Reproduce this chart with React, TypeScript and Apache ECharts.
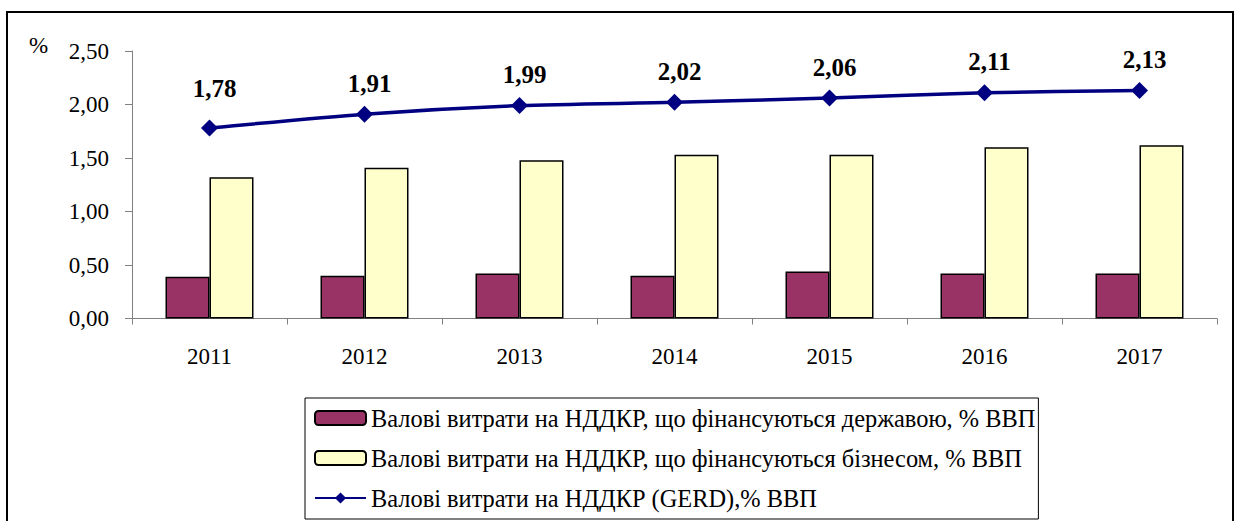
import React, { useEffect, useRef } from "react";
import * as echarts from "echarts";

const years = ["2011", "2012", "2013", "2014", "2015", "2016", "2017"];
const govValues = [0.39, 0.4, 0.42, 0.4, 0.44, 0.42, 0.42];
const bizValues = [1.32, 1.41, 1.48, 1.53, 1.53, 1.6, 1.62];
const gerdValues = [1.78, 1.91, 1.99, 2.02, 2.06, 2.11, 2.13];
const seriesNames = [
  "Валові витрати на НДДКР, що фінансуються державою, % ВВП",
  "Валові витрати на НДДКР, що фінансуються бізнесом, % ВВП",
  "Валові витрати на НДДКР (GERD),% ВВП",
];

const SERIF = "Times New Roman, Liberation Serif, serif";
const fmt = (v: number) => v.toFixed(2).replace(".", ",");

export default function App() {
  const ref = useRef<HTMLDivElement>(null);
  useEffect(() => {
    if (!ref.current) return;
    const chart = echarts.init(ref.current, null, { renderer: "svg" });
    chart.setOption({
      animation: false,
      backgroundColor: "#ffffff",
      textStyle: { fontFamily: SERIF },
      grid: { left: 132, top: 51, width: 1085, height: 267.5, containLabel: false },
      graphic: [
        {
          type: "rect",
          shape: { x: 7, y: 12, width: 1226, height: 600 },
          style: { fill: "none", stroke: "#000", lineWidth: 2 },
          z: -1,
        },
        {
          type: "text",
          left: 29,
          top: 34,
          style: { text: "%", fontSize: 23, fontFamily: SERIF, fill: "#000" },
        },
      ],
      legend: {
        orient: "vertical",
        left: 305,
        top: 398,
        padding: [7, 3, 8, 9],
        itemWidth: 51,
        itemHeight: 14,
        itemGap: 14,
        borderColor: "#000",
        borderWidth: 1,
        textStyle: { fontFamily: SERIF, fontSize: 24.4, color: "#000", lineHeight: 26 },
        data: seriesNames,
      },
      xAxis: {
        type: "category",
        data: years,
        boundaryGap: true,
        axisLine: { lineStyle: { color: "#808080", width: 1 } },
        axisTick: { show: true, length: 6, alignWithLabel: false, lineStyle: { color: "#808080" } },
        axisLabel: { fontFamily: SERIF, fontSize: 23, color: "#000", margin: 26 },
        splitLine: { show: false },
      },
      yAxis: {
        type: "value",
        min: 0,
        max: 2.5,
        interval: 0.5,
        axisLine: { show: true, lineStyle: { color: "#808080", width: 1 } },
        axisTick: { show: true, length: 7, lineStyle: { color: "#808080" } },
        axisLabel: {
          fontFamily: SERIF,
          fontSize: 23,
          color: "#000",
          margin: 23,
          formatter: (v: number) => fmt(v),
        },
        splitLine: { show: false },
      },
      series: [
        {
          name: seriesNames[0],
          type: "bar",
          data: govValues,
          barWidth: 44,
          barGap: "0%",
          itemStyle: { color: "#993366", borderColor: "#000", borderWidth: 1.5 },
        },
        {
          name: seriesNames[1],
          type: "bar",
          data: bizValues,
          barWidth: 44,
          barGap: "0%",
          itemStyle: { color: "#FFFFCC", borderColor: "#000", borderWidth: 1.5 },
        },
        {
          name: seriesNames[2],
          type: "line",
          data: gerdValues.map((v, i) =>
            i === 0 ? { value: v, label: { offset: [5, -9] } } : v
          ),
          smooth: 0.25,
          symbol: "diamond",
          symbolSize: 17,
          lineStyle: { color: "#000080", width: 3.5 },
          itemStyle: { color: "#000080" },
          label: {
            show: true,
            position: "top",
            distance: 10,
            offset: [5, 0],
            fontFamily: SERIF,
            fontSize: 25,
            fontWeight: "bold",
            color: "#000",
            formatter: (p: any) => fmt(p.value),
          },
          z: 5,
        },
      ],
    });
    return () => chart.dispose();
  }, []);
  return (
    <div
      ref={ref}
      style={{ position: "fixed", left: 0, top: 0, width: 1237, height: 521, background: "#fff" }}
    />
  );
}
